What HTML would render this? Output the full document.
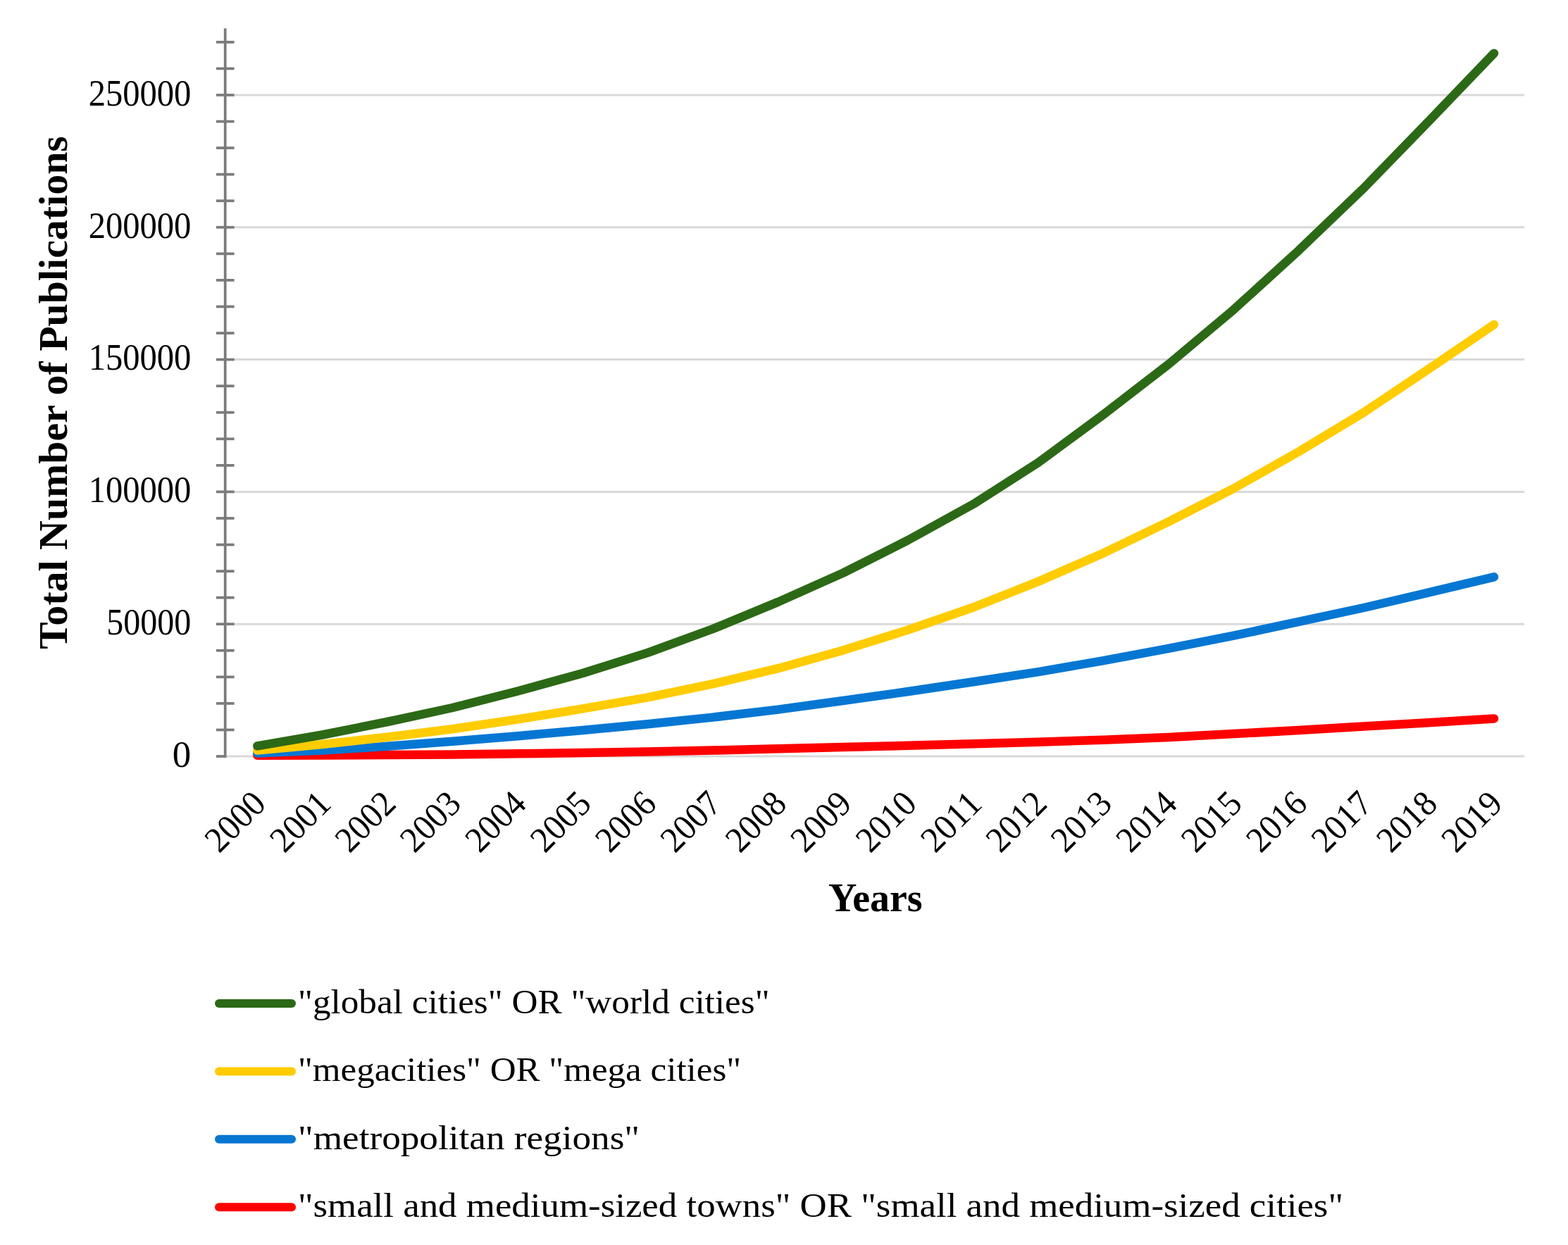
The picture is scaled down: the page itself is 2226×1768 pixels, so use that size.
<!DOCTYPE html>
<html lang="en"><head><meta charset="utf-8"><title>Total Number of Publications by Year</title>
<style>html,body{margin:0;padding:0;background:#fff}body{width:2226px;height:1768px;overflow:hidden}svg{display:block}text{font-family:"Liberation Serif","DejaVu Serif",serif;fill:#000}.b{font-weight:700}</style></head><body>
<svg width="2226" height="1768" viewBox="0 0 2226 1768">
<rect width="2226" height="1768" fill="#fff"/>
<g stroke="#d9d9d9" stroke-width="3" fill="none">
<line x1="321.2" y1="1074.05" x2="2164" y2="1074.05"/>
<line x1="321.2" y1="886.23" x2="2164" y2="886.23"/>
<line x1="321.2" y1="698.41" x2="2164" y2="698.41"/>
<line x1="321.2" y1="510.59" x2="2164" y2="510.59"/>
<line x1="321.2" y1="322.77" x2="2164" y2="322.77"/>
<line x1="321.2" y1="134.95" x2="2164" y2="134.95"/>
</g>
<g stroke="#7b7b7b" stroke-width="3.75" fill="none">
<line x1="319.7" y1="40.2" x2="319.7" y2="1075.92"/>
<line x1="307" y1="1074.05" x2="319.7" y2="1074.05"/>
<line x1="307" y1="1036.49" x2="332.6" y2="1036.49"/>
<line x1="307" y1="998.92" x2="332.6" y2="998.92"/>
<line x1="307" y1="961.36" x2="332.6" y2="961.36"/>
<line x1="307" y1="923.79" x2="332.6" y2="923.79"/>
<line x1="307" y1="886.23" x2="332.6" y2="886.23"/>
<line x1="307" y1="848.67" x2="332.6" y2="848.67"/>
<line x1="307" y1="811.1" x2="332.6" y2="811.1"/>
<line x1="307" y1="773.54" x2="332.6" y2="773.54"/>
<line x1="307" y1="735.97" x2="332.6" y2="735.97"/>
<line x1="307" y1="698.41" x2="332.6" y2="698.41"/>
<line x1="307" y1="660.85" x2="332.6" y2="660.85"/>
<line x1="307" y1="623.28" x2="332.6" y2="623.28"/>
<line x1="307" y1="585.72" x2="332.6" y2="585.72"/>
<line x1="307" y1="548.15" x2="332.6" y2="548.15"/>
<line x1="307" y1="510.59" x2="332.6" y2="510.59"/>
<line x1="307" y1="473.03" x2="332.6" y2="473.03"/>
<line x1="307" y1="435.46" x2="332.6" y2="435.46"/>
<line x1="307" y1="397.9" x2="332.6" y2="397.9"/>
<line x1="307" y1="360.33" x2="332.6" y2="360.33"/>
<line x1="307" y1="322.77" x2="332.6" y2="322.77"/>
<line x1="307" y1="285.21" x2="332.6" y2="285.21"/>
<line x1="307" y1="247.64" x2="332.6" y2="247.64"/>
<line x1="307" y1="210.08" x2="332.6" y2="210.08"/>
<line x1="307" y1="172.51" x2="332.6" y2="172.51"/>
<line x1="307" y1="134.95" x2="332.6" y2="134.95"/>
<line x1="307" y1="97.39" x2="332.6" y2="97.39"/>
<line x1="307" y1="59.82" x2="332.6" y2="59.82"/>
</g>
<g fill="none" stroke-width="12.5" stroke-linecap="round" stroke-linejoin="round">
<polyline stroke="#ff0000" points="365.3,1072.8 457.71,1072.5 550.11,1072.1 642.52,1071.4 734.92,1070.3 827.33,1069.1 919.73,1067.5 1012.13,1065.5 1104.54,1063.3 1196.94,1061.1 1289.35,1058.7 1381.76,1056.3 1474.16,1053.7 1566.57,1050.7 1658.97,1047 1751.38,1042.1 1843.78,1037 1936.18,1031.6 2028.59,1026.2 2120.99,1020.4"/>
<polyline stroke="#0577d3" points="365.3,1069.4 457.71,1065.6 550.11,1059.8 642.52,1052.8 734.92,1045.2 827.33,1037 919.73,1028.2 1012.13,1018.6 1104.54,1007.6 1196.94,995 1289.35,982 1381.76,968.2 1474.16,954.1 1566.57,938.1 1658.97,920.8 1751.38,902.7 1843.78,882.9 1936.18,863 2028.59,841.3 2120.99,819.3"/>
<polyline stroke="#ffcc00" points="365.3,1065.6 457.71,1057 550.11,1046.7 642.52,1035.2 734.92,1021.5 827.33,1006.4 919.73,990.3 1012.13,971.2 1104.54,949.2 1196.94,923.4 1289.35,894.4 1381.76,862.5 1474.16,825.8 1566.57,785.4 1658.97,740.9 1751.38,693.6 1843.78,641.4 1936.18,585.6 2028.59,523.8 2120.99,460.9"/>
<polyline stroke="#2c6916" points="365.3,1059.3 457.71,1043.5 550.11,1025 642.52,1005 734.92,981.5 827.33,956 919.73,926.9 1012.13,893 1104.54,854.9 1196.94,813.6 1289.35,766.9 1381.76,715.9 1474.16,656.8 1566.57,588.6 1658.97,517.3 1751.38,439.7 1843.78,355.6 1936.18,267 2028.59,171.8 2120.99,75.7"/>
</g>
<line x1="311" y1="1425" x2="414" y2="1425" stroke="#2c6916" stroke-width="12" stroke-linecap="round"/>
<line x1="311" y1="1521.4" x2="414" y2="1521.4" stroke="#ffcc00" stroke-width="12" stroke-linecap="round"/>
<line x1="311" y1="1617.8" x2="414" y2="1617.8" stroke="#0577d3" stroke-width="12" stroke-linecap="round"/>
<line x1="311" y1="1714.2" x2="414" y2="1714.2" stroke="#ff0000" stroke-width="12" stroke-linecap="round"/>
<text font-size="48" textLength="26.39" lengthAdjust="spacingAndGlyphs" transform="translate(244.8 1088.8) scale(1 1.085)">0</text>
<text font-size="48" textLength="120" lengthAdjust="spacingAndGlyphs" transform="translate(151.24 900.98) scale(1 1.085)">50000</text>
<text font-size="48" textLength="145.62" lengthAdjust="spacingAndGlyphs" transform="translate(125.64 713.16) scale(1 1.085)">100000</text>
<text font-size="48" textLength="145.62" lengthAdjust="spacingAndGlyphs" transform="translate(125.64 525.34) scale(1 1.085)">150000</text>
<text font-size="48" textLength="145.62" lengthAdjust="spacingAndGlyphs" transform="translate(125.64 337.52) scale(1 1.085)">200000</text>
<text font-size="48" textLength="145.62" lengthAdjust="spacingAndGlyphs" transform="translate(125.64 149.7) scale(1 1.085)">250000</text>
<text font-size="48" textLength="97" lengthAdjust="spacingAndGlyphs" transform="translate(311.35 1212.66) rotate(-45) scale(1 1.06)">2000</text>
<text font-size="48" textLength="97" lengthAdjust="spacingAndGlyphs" transform="translate(403.76 1212.66) rotate(-45) scale(1 1.06)">2001</text>
<text font-size="48" textLength="97" lengthAdjust="spacingAndGlyphs" transform="translate(496.16 1212.66) rotate(-45) scale(1 1.06)">2002</text>
<text font-size="48" textLength="97" lengthAdjust="spacingAndGlyphs" transform="translate(588.57 1212.66) rotate(-45) scale(1 1.06)">2003</text>
<text font-size="48" textLength="97" lengthAdjust="spacingAndGlyphs" transform="translate(680.97 1212.66) rotate(-45) scale(1 1.06)">2004</text>
<text font-size="48" textLength="97" lengthAdjust="spacingAndGlyphs" transform="translate(773.38 1212.66) rotate(-45) scale(1 1.06)">2005</text>
<text font-size="48" textLength="97" lengthAdjust="spacingAndGlyphs" transform="translate(865.78 1212.66) rotate(-45) scale(1 1.06)">2006</text>
<text font-size="48" textLength="97" lengthAdjust="spacingAndGlyphs" transform="translate(958.19 1212.66) rotate(-45) scale(1 1.06)">2007</text>
<text font-size="48" textLength="97" lengthAdjust="spacingAndGlyphs" transform="translate(1050.59 1212.66) rotate(-45) scale(1 1.06)">2008</text>
<text font-size="48" textLength="97" lengthAdjust="spacingAndGlyphs" transform="translate(1143 1212.66) rotate(-45) scale(1 1.06)">2009</text>
<text font-size="48" textLength="97" lengthAdjust="spacingAndGlyphs" transform="translate(1235.4 1212.66) rotate(-45) scale(1 1.06)">2010</text>
<text font-size="48" textLength="97" lengthAdjust="spacingAndGlyphs" transform="translate(1327.81 1212.66) rotate(-45) scale(1 1.06)">2011</text>
<text font-size="48" textLength="97" lengthAdjust="spacingAndGlyphs" transform="translate(1420.21 1212.66) rotate(-45) scale(1 1.06)">2012</text>
<text font-size="48" textLength="97" lengthAdjust="spacingAndGlyphs" transform="translate(1512.62 1212.66) rotate(-45) scale(1 1.06)">2013</text>
<text font-size="48" textLength="97" lengthAdjust="spacingAndGlyphs" transform="translate(1605.02 1212.66) rotate(-45) scale(1 1.06)">2014</text>
<text font-size="48" textLength="97" lengthAdjust="spacingAndGlyphs" transform="translate(1697.43 1212.66) rotate(-45) scale(1 1.06)">2015</text>
<text font-size="48" textLength="97" lengthAdjust="spacingAndGlyphs" transform="translate(1789.83 1212.66) rotate(-45) scale(1 1.06)">2016</text>
<text font-size="48" textLength="97" lengthAdjust="spacingAndGlyphs" transform="translate(1882.24 1212.66) rotate(-45) scale(1 1.06)">2017</text>
<text font-size="48" textLength="97" lengthAdjust="spacingAndGlyphs" transform="translate(1974.64 1212.66) rotate(-45) scale(1 1.06)">2018</text>
<text font-size="48" textLength="97" lengthAdjust="spacingAndGlyphs" transform="translate(2067.05 1212.66) rotate(-45) scale(1 1.06)">2019</text>
<text class="b" font-size="56" textLength="728.98" lengthAdjust="spacingAndGlyphs" transform="translate(94.8 922.06) rotate(-90)">Total Number of Publications</text>
<text class="b" font-size="56" textLength="133.56" lengthAdjust="spacingAndGlyphs" transform="translate(1176.05 1294.1)">Years</text>
<text font-size="48" textLength="669.67" lengthAdjust="spacingAndGlyphs" transform="translate(422.98 1439) scale(1 1.03)">"global cities" OR "world cities"</text>
<text font-size="48" textLength="629.21" lengthAdjust="spacingAndGlyphs" transform="translate(422.93 1535.4) scale(1 1.03)">"megacities" OR "mega cities"</text>
<text font-size="48" textLength="485.05" lengthAdjust="spacingAndGlyphs" transform="translate(423.01 1631.8) scale(1 1.03)">"metropolitan regions"</text>
<text font-size="48" textLength="1484.15" lengthAdjust="spacingAndGlyphs" transform="translate(422.88 1728.2) scale(1 1.03)">"small and medium-sized towns" OR "small and medium-sized cities"</text>
</svg></body></html>
